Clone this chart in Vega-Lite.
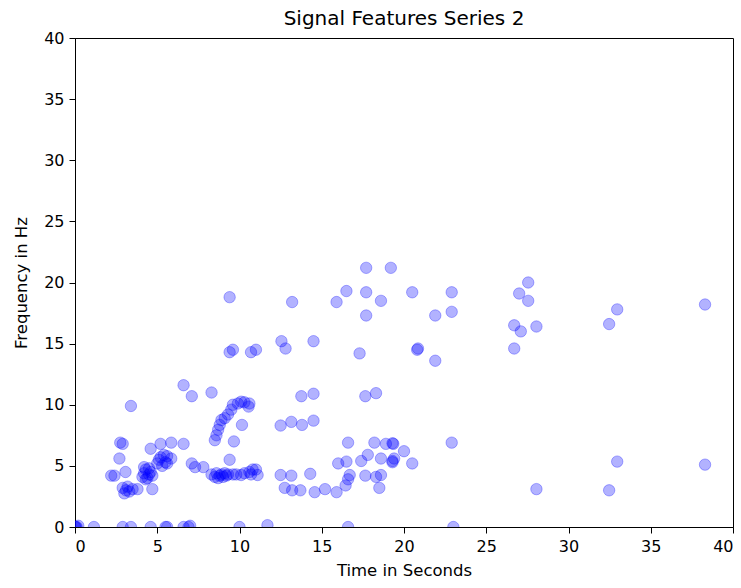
{
  "$schema": "https://vega.github.io/schema/vega-lite/v6.json",
  "autosize": {"type": "none"},
  "width": 658,
  "height": 489,
  "padding": {"left": 75, "top": 38, "right": 8, "bottom": 61},
  "background": "white",
  "title": {"text": "Signal Features Series 2", "font": "DejaVu Sans", "fontSize": 20, "fontWeight": "normal", "color": "black", "offset": 1},
  "config": {
    "view": {"stroke": "black", "strokeWidth": 1},
    "axis": {"grid": false, "domainColor": "black", "tickColor": "black", "tickSize": 6, "labelFont": "DejaVu Sans", "labelFontSize": 16, "labelColor": "black", "titleFont": "DejaVu Sans", "titleFontSize": 16.5, "titleFontWeight": "normal", "titleColor": "black", "labelPadding": 5}
  },
  "data": {"values": [
    {"t": 0.0, "f": 0.0}, {"t": 0.1, "f": 0.0}, {"t": 0.2, "f": 0.1}, {"t": 0.05, "f": 0.0},
    {"t": 1.15, "f": 0.0}, {"t": 2.9, "f": 0.0}, {"t": 3.4, "f": 0.0}, {"t": 4.6, "f": 0.0}, {"t": 5.5, "f": 0.0}, {"t": 5.6, "f": 0.0}, {"t": 6.6, "f": 0.0}, {"t": 6.9, "f": 0.0}, {"t": 7.0, "f": 0.1}, {"t": 10.0, "f": 0.0}, {"t": 11.7, "f": 0.15}, {"t": 16.6, "f": 0.0}, {"t": 23.0, "f": 0.0},
    {"t": 2.2, "f": 4.2}, {"t": 2.4, "f": 4.2}, {"t": 2.75, "f": 6.9}, {"t": 2.9, "f": 6.8}, {"t": 2.7, "f": 5.6}, {"t": 3.07, "f": 4.5}, {"t": 3.4, "f": 9.9},
    {"t": 2.9, "f": 3.2}, {"t": 3.1, "f": 3.0}, {"t": 3.0, "f": 2.75}, {"t": 3.3, "f": 2.9}, {"t": 3.5, "f": 3.1}, {"t": 3.8, "f": 3.1}, {"t": 3.2, "f": 3.3},
    {"t": 4.7, "f": 3.1},
    {"t": 4.1, "f": 4.1}, {"t": 4.2, "f": 4.4}, {"t": 4.3, "f": 4.7}, {"t": 4.4, "f": 4.0}, {"t": 4.5, "f": 4.3}, {"t": 4.2, "f": 4.9}, {"t": 4.6, "f": 4.5}, {"t": 4.7, "f": 4.2}, {"t": 4.3, "f": 3.9}, {"t": 4.5, "f": 4.8},
    {"t": 4.6, "f": 6.4}, {"t": 5.2, "f": 6.8}, {"t": 5.85, "f": 6.9}, {"t": 6.6, "f": 6.8},
    {"t": 5.0, "f": 5.2}, {"t": 5.1, "f": 5.5}, {"t": 5.2, "f": 5.7}, {"t": 5.4, "f": 5.9}, {"t": 5.5, "f": 5.3}, {"t": 5.3, "f": 5.0}, {"t": 5.6, "f": 5.8}, {"t": 5.85, "f": 5.6}, {"t": 5.6, "f": 5.2},
    {"t": 7.1, "f": 5.2}, {"t": 7.3, "f": 4.9}, {"t": 7.8, "f": 4.9},
    {"t": 6.6, "f": 11.6}, {"t": 7.1, "f": 10.7}, {"t": 8.3, "f": 11.0},
    {"t": 8.3, "f": 4.3}, {"t": 8.5, "f": 4.1}, {"t": 8.6, "f": 4.4}, {"t": 8.8, "f": 4.2}, {"t": 8.9, "f": 4.3}, {"t": 9.0, "f": 4.1}, {"t": 9.1, "f": 4.4}, {"t": 9.2, "f": 4.2}, {"t": 9.3, "f": 4.3}, {"t": 8.7, "f": 4.0}, {"t": 9.6, "f": 4.3}, {"t": 9.8, "f": 4.3}, {"t": 10.1, "f": 4.25}, {"t": 10.3, "f": 4.4}, {"t": 10.6, "f": 4.5}, {"t": 10.8, "f": 4.7}, {"t": 10.7, "f": 4.3}, {"t": 11.1, "f": 4.25}, {"t": 11.0, "f": 4.7}, {"t": 9.4, "f": 5.5},
    {"t": 9.9, "f": 10.1}, {"t": 10.1, "f": 10.25}, {"t": 10.3, "f": 10.2}, {"t": 10.6, "f": 10.1}, {"t": 10.55, "f": 9.85}, {"t": 9.6, "f": 10.0}, {"t": 9.5, "f": 9.6}, {"t": 9.3, "f": 9.2}, {"t": 9.1, "f": 8.9}, {"t": 8.9, "f": 8.75}, {"t": 8.8, "f": 8.35}, {"t": 8.7, "f": 7.95}, {"t": 8.6, "f": 7.5}, {"t": 8.5, "f": 7.1}, {"t": 10.15, "f": 8.35}, {"t": 9.66, "f": 7.0},
    {"t": 9.4, "f": 18.8}, {"t": 9.4, "f": 14.3}, {"t": 9.6, "f": 14.5}, {"t": 10.7, "f": 14.3}, {"t": 11.0, "f": 14.5},
    {"t": 12.55, "f": 15.2}, {"t": 12.8, "f": 14.6}, {"t": 14.5, "f": 15.2}, {"t": 13.2, "f": 18.4}, {"t": 15.9, "f": 18.4}, {"t": 16.5, "f": 19.3}, {"t": 17.7, "f": 19.2}, {"t": 18.6, "f": 18.5}, {"t": 17.7, "f": 21.2}, {"t": 19.2, "f": 21.2}, {"t": 20.5, "f": 19.2}, {"t": 17.7, "f": 17.3}, {"t": 21.9, "f": 17.3}, {"t": 22.9, "f": 19.2}, {"t": 22.9, "f": 17.6}, {"t": 17.3, "f": 14.2}, {"t": 20.8, "f": 14.5}, {"t": 20.85, "f": 14.6}, {"t": 21.9, "f": 13.6},
    {"t": 13.76, "f": 10.7}, {"t": 14.5, "f": 10.9}, {"t": 17.65, "f": 10.7}, {"t": 18.3, "f": 10.95},
    {"t": 12.5, "f": 8.3}, {"t": 13.15, "f": 8.6}, {"t": 13.8, "f": 8.35}, {"t": 14.5, "f": 8.7},
    {"t": 16.6, "f": 6.9}, {"t": 18.2, "f": 6.9}, {"t": 18.9, "f": 6.8}, {"t": 19.3, "f": 6.85}, {"t": 19.35, "f": 6.8}, {"t": 20.0, "f": 6.2}, {"t": 22.9, "f": 6.9},
    {"t": 16.0, "f": 5.2}, {"t": 16.5, "f": 5.35}, {"t": 17.4, "f": 5.4}, {"t": 17.8, "f": 5.9}, {"t": 18.6, "f": 5.6}, {"t": 19.3, "f": 5.4}, {"t": 19.4, "f": 5.6}, {"t": 19.3, "f": 5.3}, {"t": 20.5, "f": 5.2},
    {"t": 12.5, "f": 4.25}, {"t": 13.15, "f": 4.2}, {"t": 14.3, "f": 4.35}, {"t": 16.7, "f": 4.25}, {"t": 16.6, "f": 3.9}, {"t": 16.45, "f": 3.4}, {"t": 17.65, "f": 4.2}, {"t": 18.3, "f": 4.1}, {"t": 18.6, "f": 4.25}, {"t": 18.5, "f": 3.2},
    {"t": 12.75, "f": 3.2}, {"t": 13.2, "f": 3.0}, {"t": 13.7, "f": 3.0}, {"t": 14.57, "f": 2.85}, {"t": 15.2, "f": 3.1}, {"t": 15.9, "f": 2.85},
    {"t": 27.55, "f": 20.0}, {"t": 27.0, "f": 19.1}, {"t": 27.55, "f": 18.5}, {"t": 26.7, "f": 16.5}, {"t": 27.1, "f": 16.0}, {"t": 28.05, "f": 16.4}, {"t": 26.7, "f": 14.6}, {"t": 28.05, "f": 3.1},
    {"t": 32.96, "f": 17.8}, {"t": 32.47, "f": 16.6}, {"t": 38.3, "f": 18.2}, {"t": 32.96, "f": 5.35}, {"t": 32.47, "f": 3.0}, {"t": 38.3, "f": 5.1}
  ]},
  "mark": {"type": "point", "shape": "circle", "filled": true, "size": 130, "fill": "blue", "fillOpacity": 0.3, "stroke": "blue", "strokeOpacity": 0.3, "strokeWidth": 1, "clip": true},
  "encoding": {
    "x": {"field": "t", "type": "quantitative", "scale": {"domain": [0, 40], "nice": false, "zero": false}, "axis": {"values": [0, 5, 10, 15, 20, 25, 30, 35, 40], "title": "Time in Seconds", "titlePadding": 8}},
    "y": {"field": "f", "type": "quantitative", "scale": {"domain": [0, 40], "nice": false, "zero": false}, "axis": {"values": [0, 5, 10, 15, 20, 25, 30, 35, 40], "title": "Frequency in Hz", "titlePadding": 14}}
  }
}
